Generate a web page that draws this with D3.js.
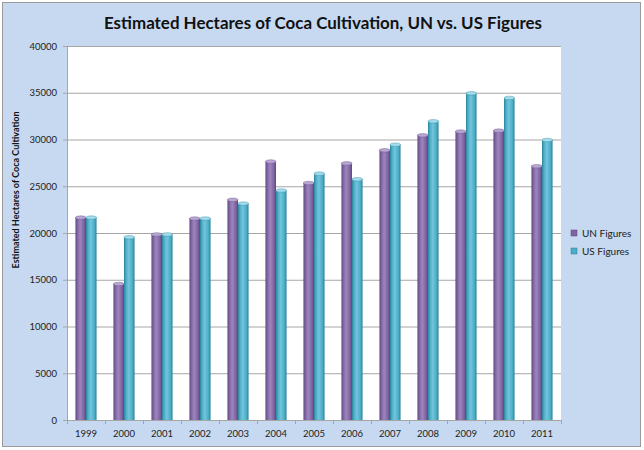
<!DOCTYPE html>
<html><head><meta charset="utf-8">
<script src="https://cdn.jsdelivr.net/npm/d3@7"></script>
<style>body{margin:0;background:#fff;}svg{display:block;}</style>
</head><body>
<svg id="c" width="644" height="450"></svg>
<script>
const years = ["1999","2000","2001","2002","2003","2004","2005","2006","2007","2008","2009","2010","2011"];
const unFigures = [21700,14600,19900,21600,23600,27700,25400,27500,28900,30500,30900,31000,27200];
const usFigures = [21700,19600,19900,21600,23200,24600,26400,25800,29500,32000,35000,34500,30000];
const seriesNames = ["UN Figures","US Figures"];
const yTicks = [0,5000,10000,15000,20000,25000,30000,35000,40000];

const FONT = "Lato, 'Open Sans', 'DejaVu Sans', sans-serif";
const svg = d3.select("#c");
const W = 644, H = 450;
const L = 67, R = 561, T = 46, B = 420;

svg.append("rect").attr("x",2.5).attr("y",2.5).attr("width",638).attr("height",444)
  .attr("fill","#C6D9F1").attr("stroke","#9a9a9a").attr("stroke-width",1);

const x = d3.scaleBand().domain(years).range([L,R]).padding(0);
const xs = d3.scaleBand().domain(seriesNames).range([0, x.bandwidth()]).paddingInner(0).paddingOuter(0.8);
const y = d3.scaleLinear().domain([0,40000]).range([B,T]);

svg.append("rect").attr("x",L).attr("y",T).attr("width",R-L).attr("height",B-T).attr("fill","#fff");

// gradients
const defs = svg.append("defs");
const pal = {
  "UN Figures": {edge:"#5c4680", mid:"#8064A2", hi:"#9d86bd", top:"#b9a6d3", base:"#8064A2"},
  "US Figures": {edge:"#2b8199", mid:"#4BACC6", hi:"#72c6dc", top:"#a3dcec", base:"#4BACC6"}
};
seriesNames.forEach((s,i)=>{
  const g = defs.append("linearGradient").attr("id","g"+i).attr("x1","0").attr("x2","1").attr("y1","0").attr("y2","0");
  g.append("stop").attr("offset","0").attr("stop-color",pal[s].edge);
  g.append("stop").attr("offset","0.18").attr("stop-color",pal[s].mid);
  g.append("stop").attr("offset","0.45").attr("stop-color",pal[s].hi);
  g.append("stop").attr("offset","0.8").attr("stop-color",pal[s].mid);
  g.append("stop").attr("offset","1").attr("stop-color",pal[s].edge);
});

// gridlines + y axis
const yAxis = d3.axisLeft(y).tickValues(yTicks).tickSize(-(R-L)).tickPadding(10).tickFormat(d3.format("d"));
const ya = svg.append("g").attr("transform",`translate(${L},0)`).call(yAxis);
ya.select(".domain").remove();
ya.selectAll(".tick line").attr("stroke","#a6a6a6").attr("x1",-4);
ya.selectAll(".tick text").attr("font-family",FONT).attr("font-size",9.5).attr("fill","#222");
svg.append("line").attr("x1",L+0.5).attr("x2",L+0.5).attr("y1",T).attr("y2",B).attr("stroke","#a6a6a6");

// bars
const data = years.map((yr,i)=>({yr, vals:[unFigures[i], usFigures[i]]}));
const grp = svg.append("g").selectAll("g").data(data).join("g")
  .attr("transform",d=>`translate(${x(d.yr)},0)`);
seriesNames.forEach((s,si)=>{
  grp.append("rect")
    .attr("x",xs(s)).attr("width",xs.bandwidth())
    .attr("y",d=>y(d.vals[si])).attr("height",d=>B-y(d.vals[si]))
    .attr("fill",`url(#g${si})`);
  grp.append("ellipse")
    .attr("cx",xs(s)+xs.bandwidth()/2).attr("cy",d=>y(d.vals[si])+0.5)
    .attr("rx",xs.bandwidth()/2).attr("ry",1.8)
    .attr("fill",pal[s].top).attr("stroke",pal[s].edge).attr("stroke-width",0.4);
});

// x axis
const xAxis = d3.axisBottom(x).tickSize(0).tickPadding(10);
const xa = svg.append("g").attr("transform",`translate(0,${B})`).call(xAxis);
xa.select(".domain").attr("stroke","#a6a6a6");
xa.selectAll(".tick text").attr("font-family",FONT).attr("font-size",9.5).attr("fill","#222");
svg.append("g").selectAll("line").data(years.concat(["end"])).join("line")
  .attr("x1",(d,i)=>Math.round(L + i*x.step())+0.5).attr("x2",(d,i)=>Math.round(L + i*x.step())+0.5)
  .attr("y1",B).attr("y2",B+4).attr("stroke","#a6a6a6");

// title
const title = svg.append("text").attr("x",323).attr("y",29).attr("text-anchor","middle")
  .attr("font-family",FONT).attr("font-weight","bold").attr("font-size",18).attr("fill","#111")
  .text("Estimated Hectares of Coca Cultivation, UN vs. US Figures");
function fitWidth(sel, target){
  const w = sel.node().getComputedTextLength();
  const fs = parseFloat(sel.attr("font-size"));
  sel.attr("font-size", (fs*target/w).toFixed(2));
}
fitWidth(title, 438);

// y label
const yl = svg.append("text").attr("transform","translate(19,190) rotate(-90)").attr("text-anchor","middle")
  .attr("font-family",FONT).attr("font-weight","bold").attr("font-size",10).attr("fill","#111")
  .text("Estimated Hectares of Coca Cultivation");
fitWidth(yl, 157);

// legend
const lg = svg.append("g").selectAll("g").data(seriesNames).join("g")
  .attr("transform",(d,i)=>`translate(571,${233 + i*18})`);
lg.append("rect").attr("x",0).attr("y",-3).attr("width",6).attr("height",6)
  .attr("fill",d=>pal[d].base).attr("stroke",d=>pal[d].edge).attr("stroke-width",0.5);
lg.append("text").attr("x",11).attr("y",3.5).attr("font-family",FONT).attr("font-size",10).attr("fill","#222")
  .text(d=>d);
</script>
</body></html>
